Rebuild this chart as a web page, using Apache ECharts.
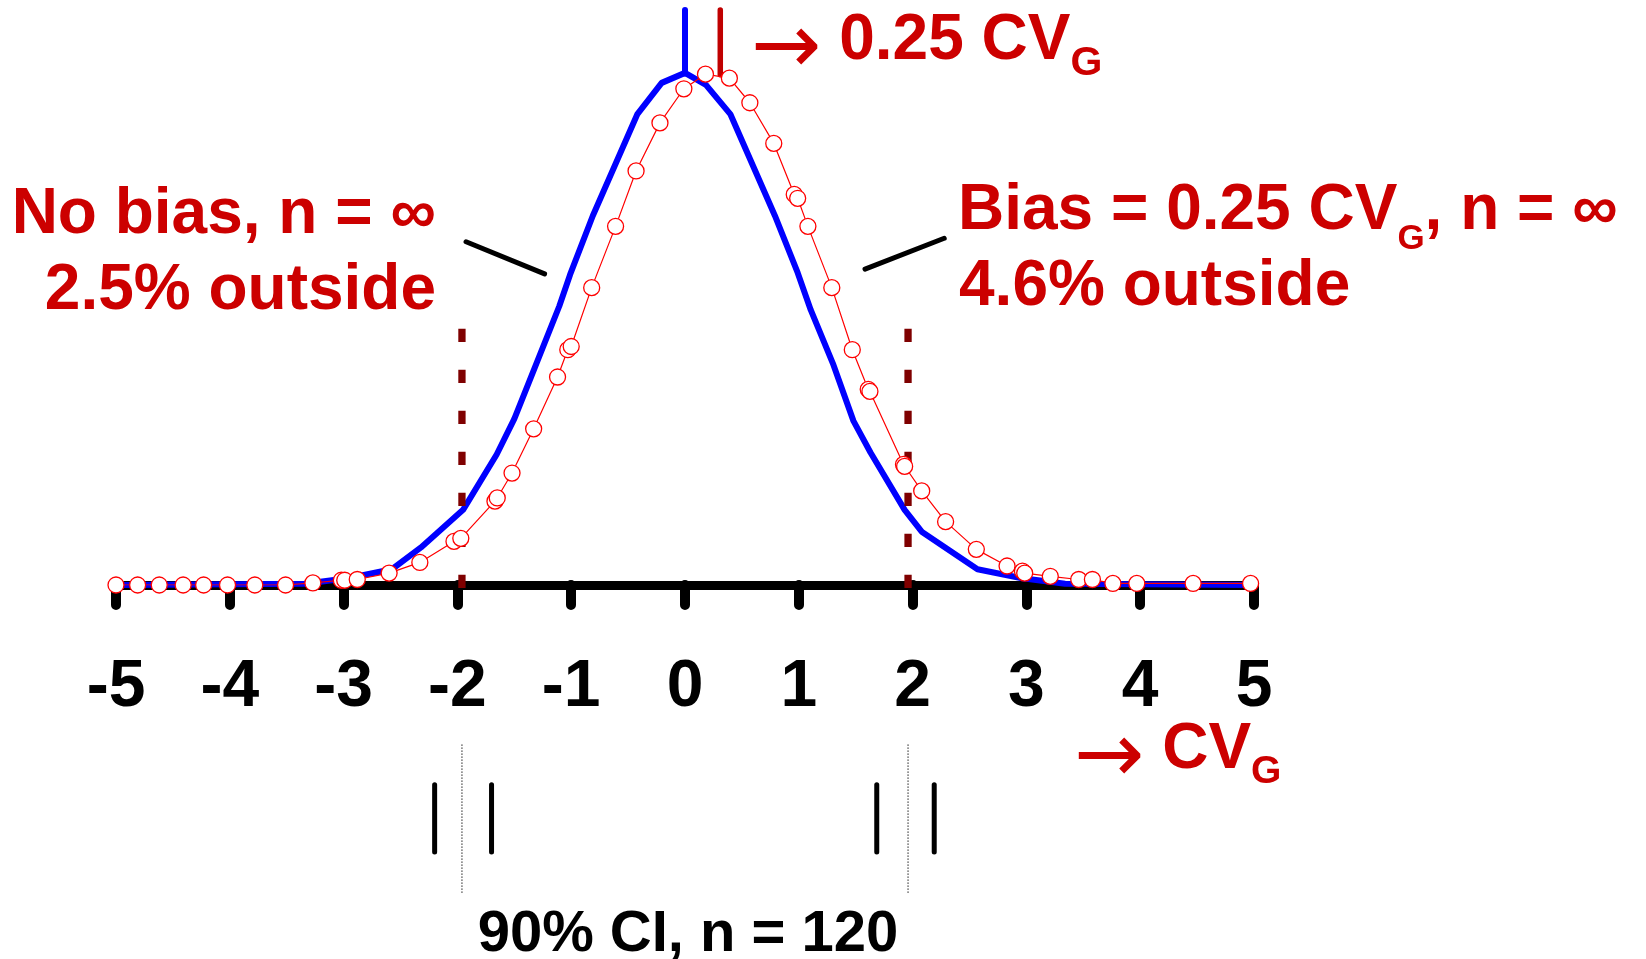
<!DOCTYPE html>
<html>
<head>
<meta charset="utf-8">
<title>Bias 0.25 CVG</title>
<script src="https://cdn.jsdelivr.net/npm/echarts@6/dist/echarts.min.js"></script>
<style>
html, body { margin: 0; padding: 0; background: #fff; }
#main { width: 1646px; height: 959px; }
</style>
</head>
<body>
<div id="main"></div>
<script>
// x in units of CV_G, y = density
var xTicks = [-5, -4, -3, -2, -1, 0, 1, 2, 3, 4, 5];

// no bias, n = inf (blue polyline)
var blueX = [-5, -3.34, -2.95, -2.575, -2.32, -1.95, -1.655, -1.5, -1.32, -1.105, -1.01, -0.81, -0.42, -0.205, 0,
             0.184, 0.40, 0.79, 0.99, 1.105, 1.30, 1.48, 1.63, 1.93, 2.08, 2.57, 2.95, 3.34, 5];
var blueY = [0, 0.001, 0.0055, 0.0123, 0.0293, 0.0586, 0.1018, 0.1295, 0.1696, 0.2174, 0.242, 0.288, 0.367, 0.3916, 0.3994,
             0.39, 0.367, 0.288, 0.2436, 0.2145, 0.1727, 0.128, 0.1033, 0.0586, 0.0416, 0.0123, 0.0055, 0.001, 0];

// bias = 0.25 CV_G (red open circles)
var redX = [-5.00, -4.81, -4.62, -4.41, -4.23, -4.02, -3.78, -3.51, -3.27, -3.02, -2.99, -2.88, -2.60, -2.33, -2.03, -1.97,
            -1.67, -1.65, -1.52, -1.33, -1.12, -1.03, -1.00, -0.82, -0.61, -0.43, -0.22, -0.01, 0.18, 0.39, 0.57, 0.78,
            0.96, 0.99, 1.08, 1.29, 1.47, 1.61, 1.625, 1.92, 1.93, 2.08, 2.29, 2.56, 2.83, 2.965, 2.985, 3.21,
            3.46, 3.58, 3.76, 3.97, 4.465, 4.97];
var redY = [0, 0, 0, 0, 0, 0, 0, 0, 0.0016, 0.0037, 0.0037, 0.0043, 0.0093, 0.0176, 0.034, 0.0364,
            0.0654, 0.0679, 0.0873, 0.1218, 0.1622, 0.1835, 0.186, 0.2319, 0.2797, 0.3229, 0.3604, 0.387, 0.3984, 0.3953, 0.3761, 0.3444,
            0.3046, 0.3016, 0.2797, 0.2319, 0.1835, 0.1526, 0.151, 0.094, 0.0925, 0.0734, 0.0494, 0.0278, 0.0148, 0.0108, 0.0093, 0.0068,
            0.0043, 0.0043, 0.0012, 0.0012, 0.0012, 0.0012];

var limitX = [-1.96, 1.96];          // dashed limits
var limitY = [-0.0023, 0.2005];
var meanX = [0, 0.31];               // blue / red tick above the peaks
var meanY = [[0.399, 0.4485], [0.398, 0.4485]];
var leaderLeft = [[-1.924, 0.2677], [-1.234, 0.2426]];
var leaderRight = [[1.582, 0.2464], [2.278, 0.2704]];

// lower panel: 90% CI, n = 120
var ciEnds = [-2.20, -1.70, 1.685, 2.19];
var ciY = [0.30, 0.72];
var ciRefX = [-1.96, 1.96];
var ciRefY = [0.045, 0.98];

var RED = '#cc0000';
var FONT = "'Liberation Sans', Arial, Helvetica, sans-serif";
var ARROW_FONT = "'DejaVu Sans', sans-serif";

function pairs(xs, ys) {
    return xs.map(function (x, i) { return [x, ys[i]]; });
}

function seg(data, color, width, type, z, xi) {
    return {
        type: 'line',
        xAxisIndex: xi || 0,
        yAxisIndex: xi || 0,
        data: data,
        showSymbol: false,
        symbol: 'none',
        silent: true,
        z: z,
        lineStyle: { color: color, width: width, type: type || 'solid', cap: 'round' }
    };
}

// red label with an arrow and a subscript G
function subRich(mainSize, subSize, subLine) {
    return {
        a: { fill: RED, color: RED, fontFamily: ARROW_FONT, fontSize: 84, fontWeight: 'normal', lineHeight: 70, verticalAlign: 'top' },
        m: { fill: RED, color: RED, fontFamily: FONT, fontSize: mainSize, fontWeight: 'bold', lineHeight: 64, verticalAlign: 'top' },
        s: { fill: RED, color: RED, fontFamily: FONT, fontSize: subSize, fontWeight: 'bold', lineHeight: subLine }
    };
}

var chart = echarts.init(document.getElementById('main'));

var series = [
    {
        name: 'No bias',
        type: 'line',
        data: pairs(blueX, blueY),
        showSymbol: false,
        symbol: 'none',
        z: 2,
        lineStyle: { color: '#0000ff', width: 6, join: 'round' }
    },
    {
        name: 'Bias',
        type: 'line',
        data: pairs(redX, redY),
        symbol: 'circle',
        symbolSize: 16,
        z: 5,
        lineStyle: { color: '#ff0000', width: 1.2 },
        itemStyle: { color: '#ffffff', borderColor: '#ff0000', borderWidth: 1.3 }
    },
    seg([[meanX[0], meanY[0][0]], [meanX[0], meanY[0][1]]], '#0000ff', 6, 'solid', 3),
    seg([[meanX[1], meanY[1][0]], [meanX[1], meanY[1][1]]], '#c00000', 5.5, 'solid', 3),
    seg(leaderLeft, '#000', 5, 'solid', 3),
    seg(leaderRight, '#000', 5, 'solid', 3)
];

limitX.forEach(function (x) {
    var s = seg([[x, limitY[0]], [x, limitY[1]]], '#7f0000', 7.3, [13.3, 27.7], 4);
    s.lineStyle.cap = 'butt';
    series.push(s);
});

ciEnds.forEach(function (x) {
    series.push(seg([[x, ciY[0]], [x, ciY[1]]], '#000', 5, 'solid', 3, 1));
});
ciRefX.forEach(function (x) {
    var s = seg([[x, ciRefY[0]], [x, ciRefY[1]]], '#222', 1.2, [1.2, 1.8], 3, 1);
    s.lineStyle.cap = 'butt';
    series.push(s);
});

var option = {
    animation: false,
    backgroundColor: '#fff',
    grid: [
        { left: 116, right: 392, top: 8, bottom: 374 },
        { left: 116, right: 392, top: 740, height: 160 }
    ],
    xAxis: [
        {
            type: 'value',
            min: -5,
            max: 5,
            interval: 1,
            axisLine: { show: true, onZero: false, lineStyle: { color: '#000', width: 9, cap: 'square' } },
            axisTick: { show: true, length: 20, lineStyle: { color: '#000', width: 10, cap: 'round' } },
            axisLabel: {
                show: true,
                margin: 103,
                verticalAlign: 'middle',
                color: '#000',
                fontSize: 66,
                fontWeight: 'bold',
                fontFamily: FONT,
                showMinLabel: true,
                showMaxLabel: true,
                formatter: function (v) { return xTicks.indexOf(v) >= 0 ? String(v) : ''; }
            },
            splitLine: { show: false }
        },
        { type: 'value', gridIndex: 1, min: -5, max: 5, show: false }
    ],
    yAxis: [
        { type: 'value', min: 0, max: 0.45, show: false },
        { type: 'value', gridIndex: 1, min: 0, max: 1, show: false }
    ],
    series: series,
    graphic: [
        {
            type: 'text', x: 751, y: 9, z: 10,
            style: {
                text: '{a|\u2192}{m| 0.25 CV}{s|G}',
                align: 'left', verticalAlign: 'top',
                rich: subRich(64, 41, 110)
            }
        },
        {
            type: 'text', x: 436, y: 215, z: 10,
            style: { text: 'No bias, n = \u221e', fill: RED, font: 'bold 64px ' + FONT, align: 'right', verticalAlign: 'middle' }
        },
        {
            type: 'text', x: 436, y: 291, z: 10,
            style: { text: '2.5% outside', fill: RED, font: 'bold 64px ' + FONT, align: 'right', verticalAlign: 'middle' }
        },
        {
            type: 'text', x: 958, y: 179, z: 10,
            style: {
                text: '{m|Bias = 0.25 CV}{s|G}{m|, n = \u221e}',
                align: 'left', verticalAlign: 'top',
                rich: subRich(64, 35, 120)
            }
        },
        {
            type: 'text', x: 959, y: 287, z: 10,
            style: { text: '4.6% outside', fill: RED, font: 'bold 64px ' + FONT, align: 'left', verticalAlign: 'middle' }
        },
        {
            type: 'text', x: 1074, y: 718, z: 10,
            style: {
                text: '{a|\u2192}{m| CV}{s|G}',
                align: 'left', verticalAlign: 'top',
                rich: subRich(64, 39, 108)
            }
        },
        {
            type: 'text', x: 688, y: 935, z: 10,
            style: { text: '90% CI, n = 120', fill: '#000', font: 'bold 58px ' + FONT, align: 'center', verticalAlign: 'middle' }
        }
    ]
};

chart.setOption(option);
</script>
</body>
</html>
